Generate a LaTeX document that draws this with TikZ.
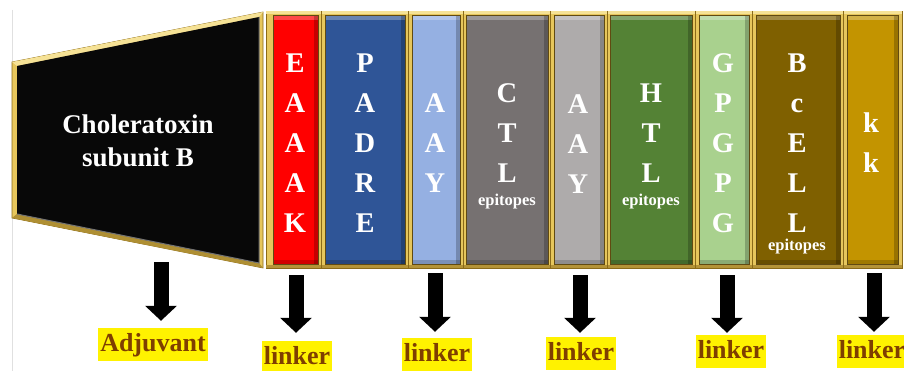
\documentclass[tikz,border=0pt]{standalone}
\usepackage{fontspec}
\setmainfont{Liberation Serif}
\usetikzlibrary{arrows.meta}
\definecolor{gold}{HTML}{E6C65C}
\definecolor{goldlight}{HTML}{F6E296}
\definecolor{golddark}{HTML}{8A6A18}
\definecolor{cRed}{HTML}{FF0000}
\definecolor{cBlue}{HTML}{2F5597}
\definecolor{cLBlue}{HTML}{95B0E2}
\definecolor{cGray}{HTML}{767171}
\definecolor{cLGray}{HTML}{AEABAB}
\definecolor{cGreen}{HTML}{548235}
\definecolor{cLGreen}{HTML}{A9D18E}
\definecolor{cBrown}{HTML}{7F6000}
\definecolor{cKGold}{HTML}{C39400}
\definecolor{labbrown}{HTML}{7F3F00}
\begin{document}
\begin{tikzpicture}[x=1pt,y=-1pt,
  barinner/.style={draw=golddark!70!black, line width=0.5pt, minimum height=249pt, inner sep=0pt,
    path picture={
      \fill[white,opacity=0.28] (path picture bounding box.north west) rectangle ([yshift=-5pt]path picture bounding box.north east);
      \fill[black,opacity=0.22] ([xshift=-4pt]path picture bounding box.north east) rectangle (path picture bounding box.south east);
      \fill[black,opacity=0.18] (path picture bounding box.south west) rectangle ([yshift=4pt]path picture bounding box.south east);
    }},
  letters/.style={text=white, font=\bfseries\fontsize{28.5}{40}\selectfont, align=center, inner sep=0pt},
  epi/.style={text=white, font=\bfseries\fontsize{16.5}{17}\selectfont, inner sep=0pt},
  blockarrow/.style={black, line width=15pt, -{Triangle[width=31pt,length=15pt]}},
  lab/.style={fill=yellow, text=labbrown, font=\bfseries\fontsize{26}{26}\selectfont,
    text height=20pt, text depth=7pt, inner xsep=2pt, inner ysep=3pt},
  sep/.style={draw=golddark, line width=1pt}
]
\useasboundingbox (0,0) rectangle (904,371);
\fill[white] (0,0) rectangle (904,371);
\draw[black!12, line width=0.6pt] (12,10) -- (12,371);

% trapezoid (cholera toxin subunit B)
\fill[gold, draw=golddark, line width=0.6pt] (12,62) -- (263,12) -- (263,268) -- (12,218) -- cycle;
\fill[goldlight] (12,62) -- (263,12) -- (259,17) -- (17,66) -- cycle;
\fill[golddark!60!gold] (12,218) -- (263,268) -- (259,263) -- (17,214) -- cycle;
\fill[black!97] (17,66) -- (259,17) -- (259,263) -- (17,214) -- cycle;
\draw[black!55, line width=1pt] (259,17) -- (259,263) -- (17,214);
\node[text=white, font=\bfseries\fontsize{27}{33}\selectfont, align=center] (ctb) at (138,141) {Choleratoxin\\subunit B};

% gold frame of the bars
\fill[gold, draw=golddark, line width=0.6pt] (266,11) rectangle (902,268);
\fill[goldlight] (266,11) rectangle (902,14);
\fill[golddark!55!gold] (266,265) rectangle (902,268);
\foreach \s in {321,408,463,550,607,695,752,843} {\draw[sep] (\s,11) -- (\s,268);}

% bars
\node[barinner, fill=cRed,    minimum width=45pt] (b1) at (295.5,139.5) {};
\node[barinner, fill=cBlue,   minimum width=80pt] (b2) at (365,139.5) {};
\node[barinner, fill=cLBlue,  minimum width=48pt] (b3) at (436,139.5) {};
\node[barinner, fill=cGray,   minimum width=82pt] (b4) at (507,139.5) {};
\node[barinner, fill=cLGray,  minimum width=50pt] (b5) at (579,139.5) {};
\node[barinner, fill=cGreen,  minimum width=82pt] (b6) at (651,139.5) {};
\node[barinner, fill=cLGreen, minimum width=50pt] (b7) at (724,139.5) {};
\node[barinner, fill=cBrown,  minimum width=84pt] (b8) at (798,139.5) {};
\node[barinner, fill=cKGold,  minimum width=51pt] (b9) at (872.5,139.5) {};

% bar texts
\node[letters] (t1) at (295,143) {E\\A\\A\\A\\K};
\node[letters] (t2) at (365,143) {P\\A\\D\\R\\E};
\node[letters] (t3) at (435,143) {A\\A\\Y};
\node[letters] (t4) at (507,133) {C\\T\\L};
\node[epi] (e4) at (507,202) {epitopes};
\node[letters] (t5) at (578,144) {A\\A\\Y};
\node[letters] (t6) at (651,133) {H\\T\\L};
\node[epi] (e6) at (651,202) {epitopes};
\node[letters] (t7) at (723,143) {G\\P\\G\\P\\G};
\node[letters] (t8) at (797,143) {B\\c\\E\\L\\L};
\node[epi] (e8) at (797,247) {epitopes};
\node[letters] (t9) at (871,143) {k\\k};

% labels
\node[lab] (adj) at (153,344.5) {Adjuvant};
\node[lab] (l1) at (297,357.5) {linker};
\node[lab] (l2) at (437,354.5) {linker};
\node[lab] (l3) at (581,353.5) {linker};
\node[lab] (l4) at (731,351.5) {linker};
\node[lab] (l5) at (872,351.5) {linker};

% arrows
\coordinate (sa) at (161,262);
\coordinate (s1) at (296,275);
\coordinate (s2) at (435,273);
\coordinate (s3) at (580,275);
\coordinate (s4) at (727,275);
\coordinate (s5) at (874,273);
\draw[blockarrow, shorten >=7pt] (sa) -- (sa |- adj.north);
\draw[blockarrow, shorten >=8pt] (s1) -- (s1 |- l1.north);
\draw[blockarrow, shorten >=6pt] (s2) -- (s2 |- l2.north);
\draw[blockarrow, shorten >=4pt] (s3) -- (s3 |- l3.north);
\draw[blockarrow, shorten >=2pt] (s4) -- (s4 |- l4.north);
\draw[blockarrow, shorten >=3pt] (s5) -- (s5 |- l5.north);
\end{tikzpicture}
\end{document}
